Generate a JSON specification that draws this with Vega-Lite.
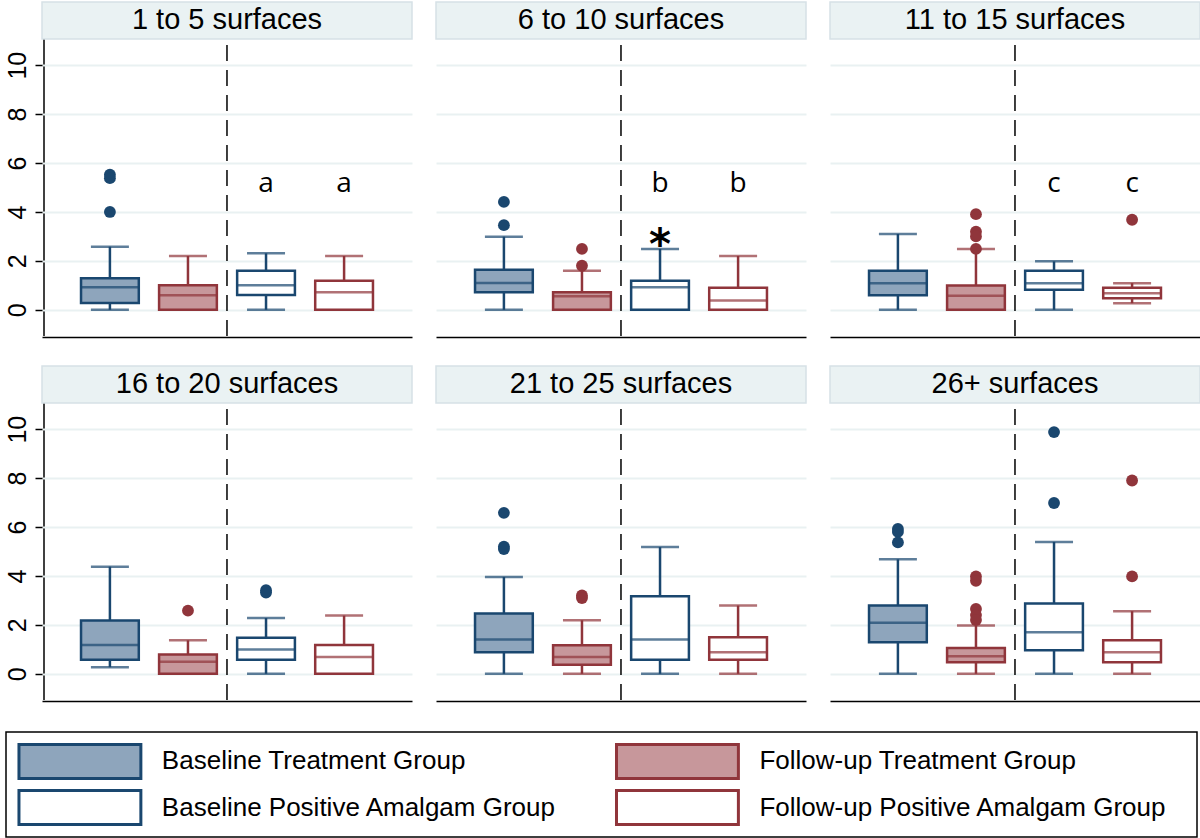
{
  "$schema": "https://vega.github.io/schema/vega-lite/v6.json",
  "background": "white",
  "padding": {"left": 4, "top": 1, "right": 4, "bottom": 0},
  "config": {"view": {"stroke": null}, "font": "Liberation Sans"},
  "datasets": {
    "panels": [
      {"panel": "1 to 5 surfaces"}, {"panel": "6 to 10 surfaces"}, {"panel": "11 to 15 surfaces"},
      {"panel": "16 to 20 surfaces"}, {"panel": "21 to 25 surfaces"}, {"panel": "26+ surfaces"}
    ],
    "legend": [
      {"group": "Baseline Treatment Group", "phase": "Baseline", "cohort": "Treatment"},
      {"group": "Follow-up Treatment Group", "phase": "Follow-up", "cohort": "Treatment"},
      {"group": "Baseline Positive Amalgam Group", "phase": "Baseline", "cohort": "Positive Amalgam"},
      {"group": "Follow-up Positive Amalgam Group", "phase": "Follow-up", "cohort": "Positive Amalgam"}
    ],
    "all": [
      {"kind": "box", "panel": "1 to 5 surfaces", "group": "Baseline Treatment Group", "lower": 0, "q1": 0.28, "median": 0.92, "q3": 1.29, "upper": 2.58},
      {"kind": "box", "panel": "1 to 5 surfaces", "group": "Follow-up Treatment Group", "lower": 0, "q1": 0, "median": 0.6, "q3": 1.0, "upper": 2.2},
      {"kind": "box", "panel": "1 to 5 surfaces", "group": "Baseline Positive Amalgam Group", "lower": 0, "q1": 0.61, "median": 1.0, "q3": 1.6, "upper": 2.31},
      {"kind": "box", "panel": "1 to 5 surfaces", "group": "Follow-up Positive Amalgam Group", "lower": 0, "q1": 0, "median": 0.72, "q3": 1.19, "upper": 2.2},
      {"kind": "outlier", "panel": "1 to 5 surfaces", "group": "Baseline Treatment Group", "value": 5.52},
      {"kind": "outlier", "panel": "1 to 5 surfaces", "group": "Baseline Treatment Group", "value": 5.38},
      {"kind": "outlier", "panel": "1 to 5 surfaces", "group": "Baseline Treatment Group", "value": 4.0},
      {"kind": "note", "panel": "1 to 5 surfaces", "group": "Baseline Positive Amalgam Group", "label": "a", "value": 4.8},
      {"kind": "note", "panel": "1 to 5 surfaces", "group": "Follow-up Positive Amalgam Group", "label": "a", "value": 4.8},

      {"kind": "box", "panel": "6 to 10 surfaces", "group": "Baseline Treatment Group", "lower": 0, "q1": 0.72, "median": 1.1, "q3": 1.64, "upper": 2.99},
      {"kind": "box", "panel": "6 to 10 surfaces", "group": "Follow-up Treatment Group", "lower": 0, "q1": 0, "median": 0.55, "q3": 0.72, "upper": 1.6},
      {"kind": "box", "panel": "6 to 10 surfaces", "group": "Baseline Positive Amalgam Group", "lower": 0, "q1": 0, "median": 0.92, "q3": 1.19, "upper": 2.49},
      {"kind": "box", "panel": "6 to 10 surfaces", "group": "Follow-up Positive Amalgam Group", "lower": 0, "q1": 0, "median": 0.38, "q3": 0.9, "upper": 2.2},
      {"kind": "outlier", "panel": "6 to 10 surfaces", "group": "Baseline Treatment Group", "value": 4.41},
      {"kind": "outlier", "panel": "6 to 10 surfaces", "group": "Baseline Treatment Group", "value": 3.46},
      {"kind": "outlier", "panel": "6 to 10 surfaces", "group": "Follow-up Treatment Group", "value": 2.49},
      {"kind": "outlier", "panel": "6 to 10 surfaces", "group": "Follow-up Treatment Group", "value": 1.8},
      {"kind": "note", "panel": "6 to 10 surfaces", "group": "Baseline Positive Amalgam Group", "label": "b", "value": 4.8},
      {"kind": "note", "panel": "6 to 10 surfaces", "group": "Follow-up Positive Amalgam Group", "label": "b", "value": 4.8},
      {"kind": "note", "panel": "6 to 10 surfaces", "group": "Baseline Positive Amalgam Group", "label": "*", "value": 3.03},

      {"kind": "box", "panel": "11 to 15 surfaces", "group": "Baseline Treatment Group", "lower": 0, "q1": 0.6, "median": 1.09, "q3": 1.6, "upper": 3.1},
      {"kind": "box", "panel": "11 to 15 surfaces", "group": "Follow-up Treatment Group", "lower": 0, "q1": 0, "median": 0.57, "q3": 0.99, "upper": 2.49},
      {"kind": "box", "panel": "11 to 15 surfaces", "group": "Baseline Positive Amalgam Group", "lower": 0, "q1": 0.82, "median": 1.09, "q3": 1.6, "upper": 1.98},
      {"kind": "box", "panel": "11 to 15 surfaces", "group": "Follow-up Positive Amalgam Group", "lower": 0.27, "q1": 0.47, "median": 0.68, "q3": 0.9, "upper": 1.09},
      {"kind": "outlier", "panel": "11 to 15 surfaces", "group": "Follow-up Treatment Group", "value": 3.91},
      {"kind": "outlier", "panel": "11 to 15 surfaces", "group": "Follow-up Treatment Group", "value": 3.19},
      {"kind": "outlier", "panel": "11 to 15 surfaces", "group": "Follow-up Treatment Group", "value": 3.0},
      {"kind": "outlier", "panel": "11 to 15 surfaces", "group": "Follow-up Treatment Group", "value": 2.49},
      {"kind": "outlier", "panel": "11 to 15 surfaces", "group": "Follow-up Positive Amalgam Group", "value": 3.68},
      {"kind": "note", "panel": "11 to 15 surfaces", "group": "Baseline Positive Amalgam Group", "label": "c", "value": 4.8},
      {"kind": "note", "panel": "11 to 15 surfaces", "group": "Follow-up Positive Amalgam Group", "label": "c", "value": 4.8},

      {"kind": "box", "panel": "16 to 20 surfaces", "group": "Baseline Treatment Group", "lower": 0.27, "q1": 0.58, "median": 1.18, "q3": 2.18, "upper": 4.38},
      {"kind": "box", "panel": "16 to 20 surfaces", "group": "Follow-up Treatment Group", "lower": 0, "q1": 0, "median": 0.49, "q3": 0.79, "upper": 1.37},
      {"kind": "box", "panel": "16 to 20 surfaces", "group": "Baseline Positive Amalgam Group", "lower": 0, "q1": 0.58, "median": 0.99, "q3": 1.47, "upper": 2.28},
      {"kind": "box", "panel": "16 to 20 surfaces", "group": "Follow-up Positive Amalgam Group", "lower": 0, "q1": 0, "median": 0.69, "q3": 1.18, "upper": 2.38},
      {"kind": "outlier", "panel": "16 to 20 surfaces", "group": "Follow-up Treatment Group", "value": 2.58},
      {"kind": "outlier", "panel": "16 to 20 surfaces", "group": "Baseline Positive Amalgam Group", "value": 3.42},
      {"kind": "outlier", "panel": "16 to 20 surfaces", "group": "Baseline Positive Amalgam Group", "value": 3.32},

      {"kind": "box", "panel": "21 to 25 surfaces", "group": "Baseline Treatment Group", "lower": 0, "q1": 0.88, "median": 1.4, "q3": 2.46, "upper": 3.96},
      {"kind": "box", "panel": "21 to 25 surfaces", "group": "Follow-up Treatment Group", "lower": 0, "q1": 0.37, "median": 0.69, "q3": 1.17, "upper": 2.19},
      {"kind": "box", "panel": "21 to 25 surfaces", "group": "Baseline Positive Amalgam Group", "lower": 0, "q1": 0.58, "median": 1.4, "q3": 3.17, "upper": 5.18},
      {"kind": "box", "panel": "21 to 25 surfaces", "group": "Follow-up Positive Amalgam Group", "lower": 0, "q1": 0.58, "median": 0.88, "q3": 1.49, "upper": 2.79},
      {"kind": "outlier", "panel": "21 to 25 surfaces", "group": "Baseline Treatment Group", "value": 6.58},
      {"kind": "outlier", "panel": "21 to 25 surfaces", "group": "Baseline Treatment Group", "value": 5.2},
      {"kind": "outlier", "panel": "21 to 25 surfaces", "group": "Baseline Treatment Group", "value": 5.1},
      {"kind": "outlier", "panel": "21 to 25 surfaces", "group": "Follow-up Treatment Group", "value": 3.2},
      {"kind": "outlier", "panel": "21 to 25 surfaces", "group": "Follow-up Treatment Group", "value": 3.1},

      {"kind": "box", "panel": "26+ surfaces", "group": "Baseline Treatment Group", "lower": 0, "q1": 1.29, "median": 2.09, "q3": 2.79, "upper": 4.68},
      {"kind": "box", "panel": "26+ surfaces", "group": "Follow-up Treatment Group", "lower": 0, "q1": 0.47, "median": 0.72, "q3": 1.06, "upper": 1.97},
      {"kind": "box", "panel": "26+ surfaces", "group": "Baseline Positive Amalgam Group", "lower": 0, "q1": 0.96, "median": 1.7, "q3": 2.87, "upper": 5.39},
      {"kind": "box", "panel": "26+ surfaces", "group": "Follow-up Positive Amalgam Group", "lower": 0, "q1": 0.47, "median": 0.88, "q3": 1.37, "upper": 2.56},
      {"kind": "outlier", "panel": "26+ surfaces", "group": "Baseline Treatment Group", "value": 5.92},
      {"kind": "outlier", "panel": "26+ surfaces", "group": "Baseline Treatment Group", "value": 5.8},
      {"kind": "outlier", "panel": "26+ surfaces", "group": "Baseline Treatment Group", "value": 5.37},
      {"kind": "outlier", "panel": "26+ surfaces", "group": "Follow-up Treatment Group", "value": 3.98},
      {"kind": "outlier", "panel": "26+ surfaces", "group": "Follow-up Treatment Group", "value": 3.8},
      {"kind": "outlier", "panel": "26+ surfaces", "group": "Follow-up Treatment Group", "value": 2.65},
      {"kind": "outlier", "panel": "26+ surfaces", "group": "Follow-up Treatment Group", "value": 2.4},
      {"kind": "outlier", "panel": "26+ surfaces", "group": "Follow-up Treatment Group", "value": 2.2},
      {"kind": "outlier", "panel": "26+ surfaces", "group": "Baseline Positive Amalgam Group", "value": 9.88},
      {"kind": "outlier", "panel": "26+ surfaces", "group": "Baseline Positive Amalgam Group", "value": 6.98},
      {"kind": "outlier", "panel": "26+ surfaces", "group": "Follow-up Positive Amalgam Group", "value": 7.9},
      {"kind": "outlier", "panel": "26+ surfaces", "group": "Follow-up Positive Amalgam Group", "value": 3.98}
    ]
  },
  "vconcat": [
    {
      "vconcat": [
        {
          "hconcat": [
            {
              "data": {"name": "panels"},
              "transform": [{"filter": {"field": "panel", "equal": "1 to 5 surfaces"}}],
              "width": 36, "height": 334,
              "mark": {"type": "rule", "color": "#000000", "strokeWidth": 1.5},
              "encoding": {
                "x": {"datum": 1.0556, "type": "quantitative", "scale": {"domain": [0, 1]}, "axis": null},
                "y": {"datum": -1.07, "type": "quantitative", "title": null,
                  "scale": {"domain": [-1.07, 12.58], "nice": false, "zero": false},
                  "axis": {"values": [0, 2, 4, 6, 8, 10], "offset": -38, "grid": false, "domain": false, "tickColor": "#000000", "tickWidth": 1.5, "tickSize": 9, "labelAngle": 270, "labelFontSize": 25, "labelFont": "Liberation Sans", "labelColor": "#000000", "labelPadding": 10, "labelAlign": "center", "labelBaseline": "alphabetic"}},
                "y2": {"datum": 11.07}
              }
            },
            {
              "data": {"name": "all"},
              "transform": [{"filter": {"field": "panel", "oneOf": ["1 to 5 surfaces", "6 to 10 surfaces", "11 to 15 surfaces"]}}],
              "facet": {"column": {"field": "panel", "type": "nominal", "sort": ["1 to 5 surfaces", "6 to 10 surfaces", "11 to 15 surfaces"], "header": {"title": null, "labels": false}}},
              "spacing": 22,
              "spec": {
                "width": 370, "height": 334,
                "layer": [
                  {"transform": [{"filter": "datum.kind == 'box' && datum.group == 'Baseline Treatment Group'"}],
                   "mark": {"type": "rect", "fill": "#eaf2f3", "stroke": "#d6e1e6", "strokeWidth": 1.5},
                   "encoding": {
                     "y": {"datum": 11.07, "type": "quantitative", "title": null,
                       "scale": {"domain": [-1.07, 12.58], "nice": false, "zero": false},
                       "axis": {"values": [0, 2, 4, 6, 8, 10], "grid": true, "gridColor": "#e9f1f2", "gridWidth": 2, "domain": false, "ticks": false, "labels": false, "minExtent": 0, "maxExtent": 0}},
                     "y2": {"datum": 12.58}
                   }},
                  {"transform": [{"filter": "datum.kind == 'box' && datum.group == 'Baseline Treatment Group'"}],
                   "mark": {"type": "text", "fontSize": 29, "font": "Liberation Sans", "baseline": "middle", "color": "#000000"},
                   "encoding": {
                     "y": {"datum": 11.825, "type": "quantitative", "title": null},
                     "text": {"field": "panel", "type": "nominal"}
                   }},
                  {"transform": [{"filter": "datum.kind == 'box' && datum.group == 'Baseline Positive Amalgam Group'"}],
                   "mark": {"type": "rule", "color": "#000000", "strokeWidth": 1.5, "strokeDash": [16, 9]},
                   "encoding": {
                     "x": {"field": "group", "type": "nominal", "bandPosition": -0.176, "title": null,
                       "scale": {"domain": ["Baseline Treatment Group", "Follow-up Treatment Group", "Baseline Positive Amalgam Group", "Follow-up Positive Amalgam Group"], "paddingInner": 0.26, "paddingOuter": 0.5},
                       "axis": {"labels": false, "ticks": false, "grid": false, "domainColor": "#000000", "domainWidth": 1.5}},
                     "y": {"datum": -1.07, "type": "quantitative", "title": null},
                     "y2": {"datum": 11.07}
                   }},
                  {"transform": [{"filter": "datum.kind == 'box'"}],
                   "mark": {"type": "rule", "strokeWidth": 2.5},
                   "encoding": {
                     "x": {"field": "group", "type": "nominal", "title": null},
                     "y": {"field": "lower", "type": "quantitative", "title": null},
                     "y2": {"field": "upper"},
                     "color": {"field": "group", "type": "nominal", "legend": null, "scale": {"domain": ["Baseline Treatment Group", "Follow-up Treatment Group", "Baseline Positive Amalgam Group", "Follow-up Positive Amalgam Group"], "range": ["#1a476f", "#90353b", "#1a476f", "#90353b"]}}
                   }},
                  {"transform": [{"filter": "datum.kind == 'box'"}],
                   "mark": {"type": "tick", "orient": "horizontal", "size": 38, "thickness": 2.5},
                   "encoding": {"x": {"field": "group", "type": "nominal", "title": null}, "y": {"field": "upper", "type": "quantitative", "title": null}, "color": {"field": "group", "type": "nominal", "legend": null}}},
                  {"transform": [{"filter": "datum.kind == 'box'"}],
                   "mark": {"type": "tick", "orient": "horizontal", "size": 38, "thickness": 2.5},
                   "encoding": {"x": {"field": "group", "type": "nominal", "title": null}, "y": {"field": "lower", "type": "quantitative", "title": null}, "color": {"field": "group", "type": "nominal", "legend": null}}},
                  {"transform": [{"filter": "datum.kind == 'box'"}],
                   "mark": {"type": "bar", "strokeWidth": 2.5},
                   "encoding": {
                     "x": {"field": "group", "type": "nominal", "title": null},
                     "y": {"field": "q1", "type": "quantitative", "title": null}, "y2": {"field": "q3"},
                     "fill": {"field": "group", "type": "nominal", "legend": null, "scale": {"domain": ["Baseline Treatment Group", "Follow-up Treatment Group", "Baseline Positive Amalgam Group", "Follow-up Positive Amalgam Group"], "range": ["#8ea5bc", "#c7979b", "#ffffff", "#ffffff"]}},
                     "stroke": {"field": "group", "type": "nominal", "legend": null, "scale": {"domain": ["Baseline Treatment Group", "Follow-up Treatment Group", "Baseline Positive Amalgam Group", "Follow-up Positive Amalgam Group"], "range": ["#1a476f", "#90353b", "#1a476f", "#90353b"]}}
                   }},
                  {"transform": [{"filter": "datum.kind == 'box'"}],
                   "mark": {"type": "tick", "orient": "horizontal", "size": 57, "thickness": 2.5},
                   "encoding": {"x": {"field": "group", "type": "nominal", "title": null}, "y": {"field": "median", "type": "quantitative", "title": null}, "color": {"field": "group", "type": "nominal", "legend": null}}},
                  {"transform": [{"filter": "datum.kind == 'outlier'"}],
                   "mark": {"type": "circle", "size": 140, "opacity": 1},
                   "encoding": {"x": {"field": "group", "type": "nominal", "title": null}, "y": {"field": "value", "type": "quantitative", "title": null}, "color": {"field": "group", "type": "nominal", "legend": null}}},
                  {"transform": [{"filter": "datum.kind == 'note' && datum.label != '*'"}],
                   "mark": {"type": "text", "fontSize": 28, "font": "Open Sans", "baseline": "alphabetic", "color": "#000000"},
                   "encoding": {"x": {"field": "group", "type": "nominal", "title": null}, "y": {"field": "value", "type": "quantitative", "title": null}, "text": {"field": "label", "type": "nominal"}}},
                  {"transform": [{"filter": "datum.kind == 'note' && datum.label == '*'"}],
                   "mark": {"type": "text", "fontSize": 42, "font": "DejaVu Sans", "fontWeight": "bold", "baseline": "middle", "dy": 10, "color": "#000000"},
                   "encoding": {"x": {"field": "group", "type": "nominal", "title": null}, "y": {"field": "value", "type": "quantitative", "title": null}, "text": {"field": "label", "type": "nominal"}}}
                ]
              }
            }
          ],
          "spacing": 0,
          "bounds": "flush"
        },
        {
          "hconcat": [
            {
              "data": {"name": "panels"},
              "transform": [{"filter": {"field": "panel", "equal": "16 to 20 surfaces"}}],
              "width": 36, "height": 334,
              "mark": {"type": "rule", "color": "#000000", "strokeWidth": 1.5},
              "encoding": {
                "x": {"datum": 1.0556, "type": "quantitative", "scale": {"domain": [0, 1]}, "axis": null},
                "y": {"datum": -1.07, "type": "quantitative", "title": null,
                  "scale": {"domain": [-1.07, 12.58], "nice": false, "zero": false},
                  "axis": {"values": [0, 2, 4, 6, 8, 10], "offset": -38, "grid": false, "domain": false, "tickColor": "#000000", "tickWidth": 1.5, "tickSize": 9, "labelAngle": 270, "labelFontSize": 25, "labelFont": "Liberation Sans", "labelColor": "#000000", "labelPadding": 10, "labelAlign": "center", "labelBaseline": "alphabetic"}},
                "y2": {"datum": 11.07}
              }
            },
            {
              "data": {"name": "all"},
              "transform": [{"filter": {"field": "panel", "oneOf": ["16 to 20 surfaces", "21 to 25 surfaces", "26+ surfaces"]}}],
              "facet": {"column": {"field": "panel", "type": "nominal", "sort": ["16 to 20 surfaces", "21 to 25 surfaces", "26+ surfaces"], "header": {"title": null, "labels": false}}},
              "spacing": 22,
              "spec": {
                "width": 370, "height": 334,
                "layer": [
                  {"transform": [{"filter": "datum.kind == 'box' && datum.group == 'Baseline Treatment Group'"}],
                   "mark": {"type": "rect", "fill": "#eaf2f3", "stroke": "#d6e1e6", "strokeWidth": 1.5},
                   "encoding": {
                     "y": {"datum": 11.07, "type": "quantitative", "title": null,
                       "scale": {"domain": [-1.07, 12.58], "nice": false, "zero": false},
                       "axis": {"values": [0, 2, 4, 6, 8, 10], "grid": true, "gridColor": "#e9f1f2", "gridWidth": 2, "domain": false, "ticks": false, "labels": false, "minExtent": 0, "maxExtent": 0}},
                     "y2": {"datum": 12.58}
                   }},
                  {"transform": [{"filter": "datum.kind == 'box' && datum.group == 'Baseline Treatment Group'"}],
                   "mark": {"type": "text", "fontSize": 29, "font": "Liberation Sans", "baseline": "middle", "color": "#000000"},
                   "encoding": {
                     "y": {"datum": 11.825, "type": "quantitative", "title": null},
                     "text": {"field": "panel", "type": "nominal"}
                   }},
                  {"transform": [{"filter": "datum.kind == 'box' && datum.group == 'Baseline Positive Amalgam Group'"}],
                   "mark": {"type": "rule", "color": "#000000", "strokeWidth": 1.5, "strokeDash": [16, 9]},
                   "encoding": {
                     "x": {"field": "group", "type": "nominal", "bandPosition": -0.176, "title": null,
                       "scale": {"domain": ["Baseline Treatment Group", "Follow-up Treatment Group", "Baseline Positive Amalgam Group", "Follow-up Positive Amalgam Group"], "paddingInner": 0.26, "paddingOuter": 0.5},
                       "axis": {"labels": false, "ticks": false, "grid": false, "domainColor": "#000000", "domainWidth": 1.5}},
                     "y": {"datum": -1.07, "type": "quantitative", "title": null},
                     "y2": {"datum": 11.07}
                   }},
                  {"transform": [{"filter": "datum.kind == 'box'"}],
                   "mark": {"type": "rule", "strokeWidth": 2.5},
                   "encoding": {
                     "x": {"field": "group", "type": "nominal", "title": null},
                     "y": {"field": "lower", "type": "quantitative", "title": null},
                     "y2": {"field": "upper"},
                     "color": {"field": "group", "type": "nominal", "legend": null, "scale": {"domain": ["Baseline Treatment Group", "Follow-up Treatment Group", "Baseline Positive Amalgam Group", "Follow-up Positive Amalgam Group"], "range": ["#1a476f", "#90353b", "#1a476f", "#90353b"]}}
                   }},
                  {"transform": [{"filter": "datum.kind == 'box'"}],
                   "mark": {"type": "tick", "orient": "horizontal", "size": 38, "thickness": 2.5},
                   "encoding": {"x": {"field": "group", "type": "nominal", "title": null}, "y": {"field": "upper", "type": "quantitative", "title": null}, "color": {"field": "group", "type": "nominal", "legend": null}}},
                  {"transform": [{"filter": "datum.kind == 'box'"}],
                   "mark": {"type": "tick", "orient": "horizontal", "size": 38, "thickness": 2.5},
                   "encoding": {"x": {"field": "group", "type": "nominal", "title": null}, "y": {"field": "lower", "type": "quantitative", "title": null}, "color": {"field": "group", "type": "nominal", "legend": null}}},
                  {"transform": [{"filter": "datum.kind == 'box'"}],
                   "mark": {"type": "bar", "strokeWidth": 2.5},
                   "encoding": {
                     "x": {"field": "group", "type": "nominal", "title": null},
                     "y": {"field": "q1", "type": "quantitative", "title": null}, "y2": {"field": "q3"},
                     "fill": {"field": "group", "type": "nominal", "legend": null, "scale": {"domain": ["Baseline Treatment Group", "Follow-up Treatment Group", "Baseline Positive Amalgam Group", "Follow-up Positive Amalgam Group"], "range": ["#8ea5bc", "#c7979b", "#ffffff", "#ffffff"]}},
                     "stroke": {"field": "group", "type": "nominal", "legend": null, "scale": {"domain": ["Baseline Treatment Group", "Follow-up Treatment Group", "Baseline Positive Amalgam Group", "Follow-up Positive Amalgam Group"], "range": ["#1a476f", "#90353b", "#1a476f", "#90353b"]}}
                   }},
                  {"transform": [{"filter": "datum.kind == 'box'"}],
                   "mark": {"type": "tick", "orient": "horizontal", "size": 57, "thickness": 2.5},
                   "encoding": {"x": {"field": "group", "type": "nominal", "title": null}, "y": {"field": "median", "type": "quantitative", "title": null}, "color": {"field": "group", "type": "nominal", "legend": null}}},
                  {"transform": [{"filter": "datum.kind == 'outlier'"}],
                   "mark": {"type": "circle", "size": 140, "opacity": 1},
                   "encoding": {"x": {"field": "group", "type": "nominal", "title": null}, "y": {"field": "value", "type": "quantitative", "title": null}, "color": {"field": "group", "type": "nominal", "legend": null}}}
                ]
              }
            }
          ],
          "spacing": 0,
          "bounds": "flush"
        }
      ],
      "spacing": 28
    },
    {
      "data": {"name": "legend"},
      "width": 1191, "height": 105,
      "view": {"stroke": "#000000", "strokeWidth": 1.5, "fill": "#ffffff"},
      "encoding": {
        "x": {"field": "phase", "type": "nominal", "axis": null, "scale": {"domain": ["Baseline", "Follow-up"], "paddingInner": 0.796, "paddingOuter": 0.3946, "align": 0.0275}},
        "y": {"field": "cohort", "type": "nominal", "axis": null, "scale": {"domain": ["Treatment", "Positive Amalgam"], "paddingInner": 0.26, "paddingOuter": 0.27}}
      },
      "layer": [
        {"mark": {"type": "rect", "strokeWidth": 3},
         "encoding": {
           "fill": {"field": "group", "type": "nominal", "legend": null, "scale": {"domain": ["Baseline Treatment Group", "Follow-up Treatment Group", "Baseline Positive Amalgam Group", "Follow-up Positive Amalgam Group"], "range": ["#8ea5bc", "#c7979b", "#ffffff", "#ffffff"]}},
           "stroke": {"field": "group", "type": "nominal", "legend": null, "scale": {"domain": ["Baseline Treatment Group", "Follow-up Treatment Group", "Baseline Positive Amalgam Group", "Follow-up Positive Amalgam Group"], "range": ["#1a476f", "#90353b", "#1a476f", "#90353b"]}}
         }},
        {"mark": {"type": "text", "align": "left", "dx": 21, "fontSize": 26, "font": "Liberation Sans", "color": "#000000"},
         "encoding": {
           "x": {"field": "phase", "type": "nominal", "bandPosition": 1},
           "text": {"field": "group", "type": "nominal"}
         }}
      ]
    }
  ],
  "spacing": 30
}
